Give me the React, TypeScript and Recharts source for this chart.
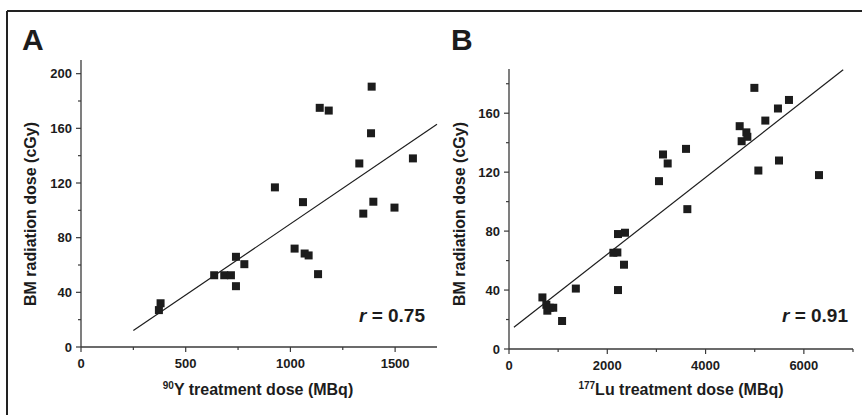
import React from 'react'
import { ScatterChart, Scatter, XAxis, YAxis } from 'recharts'

// panel A: 90Y dose vs BM dose
const xA = [372, 380, 636, 684, 716, 740, 740, 780, 926, 1020, 1060, 1068, 1087, 1132, 1140, 1183, 1329, 1348, 1385, 1388, 1396, 1497, 1585]
const yA = [27, 32, 52.5, 52.5, 52.5, 66, 44.5, 60.6, 116.8, 72, 106, 68.4, 67, 53.3, 175, 173, 134.3, 97.6, 156.4, 190.5, 106.3, 102, 138]
const fitXA = [250, 1700]
const fitYA = [12, 163]
const xTicksA = [0, 250, 500, 750, 1000, 1250, 1500]
const xMajorA = [0, 500, 1000, 1500]
const yTicksA = [0, 20, 40, 60, 80, 100, 120, 140, 160, 180, 200]
const yMajorA = [0, 40, 80, 120, 160, 200]

// panel B: 177Lu dose vs BM dose
const xB = [680, 760, 780, 830, 900, 1080, 1360, 2124, 2205, 2218, 2360, 2340, 2218, 3052, 3134, 3229, 3602, 3629, 4694, 4734, 4830, 4850, 4993, 5074, 5216, 5473, 5494, 5697, 6308]
const yB = [35, 30, 26, 28, 28, 19, 41, 65.3, 65.5, 78, 78.9, 57.2, 40, 113.9, 132, 125.9, 135.8, 94.9, 151.2, 141, 147, 144, 177.2, 121.1, 155, 163.2, 127.9, 169, 118]
const fitXB = [100, 6800]
const fitYB = [14.7, 189.5]
const xTicksB = [0, 1000, 2000, 3000, 4000, 5000, 6000, 7000]
const xMajorB = [0, 2000, 4000, 6000]
const yTicksB = [0, 20, 40, 60, 80, 100, 120, 140, 160, 180]
const yMajorB = [0, 40, 80, 120, 160]

const INK = '#1c1c1c'
const AXIS = '#3a3a3a'
const FONT = '"Liberation Sans", Arial, sans-serif'

const zip = (xs: number[], ys: number[]) => xs.map((x, i) => ({ x, y: ys[i] }))

const Square = ({ cx, cy }: any) => <rect x={cx - 4} y={cy - 4} width={8} height={8} fill={INK} />
const NoDot = () => <g />

const makeYTick = (major: number[]) => ({ x, y, payload }: any) => {
  const isMajor = major.includes(payload.value)
  return (
    <g>
      <line x1={x - (isMajor ? 5 : 3)} x2={x} y1={y} y2={y} stroke={AXIS} strokeWidth={1.2} />
      {isMajor && (
        <text x={x - 9} y={y} dy={4.6} textAnchor="end" fontSize={13} fontWeight="bold" fill={INK} fontFamily={FONT}>
          {payload.value}
        </text>
      )}
    </g>
  )
}

const makeXTick = (major: number[]) => ({ x, y, payload }: any) => {
  const isMajor = major.includes(payload.value)
  return (
    <g>
      <line x1={x} x2={x} y1={y} y2={y + (isMajor ? 5 : 3)} stroke={AXIS} strokeWidth={1.2} />
      {isMajor && (
        <text x={x} y={y + 21} textAnchor="middle" fontSize={13} fontWeight="bold" fill={INK} fontFamily={FONT}>
          {payload.value}
        </text>
      )}
    </g>
  )
}

const Panel = ({ left, width, margin, xDomain, yDomain, xTicks, xMajor, yTicks, yMajor, points, fit }: any) => (
  <div style={{ position: 'absolute', left, top: 0 }}>
    <ScatterChart width={width} height={415} margin={margin}>
      <XAxis
        type="number" dataKey="x" domain={xDomain} ticks={xTicks} interval={0}
        axisLine={{ stroke: AXIS, strokeWidth: 1.3 }} tickLine={false} tickSize={0} tickMargin={0}
        height={30} tick={makeXTick(xMajor)}
      />
      <YAxis
        type="number" dataKey="y" domain={yDomain} ticks={yTicks} interval={0}
        axisLine={{ stroke: AXIS, strokeWidth: 1.3 }} tickLine={false} tickSize={0} tickMargin={0}
        width={50} tick={makeYTick(yMajor)}
      />
      <Scatter data={fit} line={{ stroke: INK, strokeWidth: 1.2 }} shape={NoDot} isAnimationActive={false} />
      <Scatter data={points} shape={Square} isAnimationActive={false} />
    </ScatterChart>
  </div>
)

export default function App() {
  return (
    <div style={{ position: 'relative', width: 862, height: 415, background: '#fff', overflow: 'hidden' }}>
      <style>{'body{margin:0}'}</style>
      <Panel
        left={0} width={440} margin={{ top: 60, right: 3, left: 31, bottom: 38 }}
        xDomain={[0, 1700]} yDomain={[0, 210]}
        xTicks={xTicksA} xMajor={xMajorA} yTicks={yTicksA} yMajor={yMajorA}
        points={zip(xA, yA)} fit={zip(fitXA, fitYA)}
      />
      <Panel
        left={440} width={422} margin={{ top: 69, right: 9, left: 19, bottom: 36 }}
        xDomain={[0, 7000]} yDomain={[0, 190]}
        xTicks={xTicksB} xMajor={xMajorB} yTicks={yTicksB} yMajor={yMajorB}
        points={zip(xB, yB)} fit={zip(fitXB, fitYB)}
      />
      <svg width={862} height={415} style={{ position: 'absolute', left: 0, top: 0, pointerEvents: 'none' }} fontFamily={FONT} fill={INK}>
        <line x1={7} y1={11} x2={862} y2={11} stroke="#222" strokeWidth={2} />
        <line x1={7} y1={11} x2={7} y2={415} stroke="#222" strokeWidth={2} />
        <text x={22} y={50} fontSize={30} fontWeight="bold">A</text>
        <text x={451} y={50} fontSize={30} fontWeight="bold">B</text>
        <text transform="translate(36,214) rotate(-90)" textAnchor="middle" fontSize={16} fontWeight="bold">BM radiation dose (cGy)</text>
        <text transform="translate(465,214) rotate(-90)" textAnchor="middle" fontSize={16} fontWeight="bold">BM radiation dose (cGy)</text>
        <text x={258} y={395} textAnchor="middle" fontSize={16} fontWeight="bold">
          <tspan fontSize={10} dy={-6}>90</tspan>
          <tspan dy={6}>Y treatment dose (MBq)</tspan>
        </text>
        <text x={681} y={395} textAnchor="middle" fontSize={16} fontWeight="bold">
          <tspan fontSize={10} dy={-6}>177</tspan>
          <tspan dy={6}>Lu treatment dose (MBq)</tspan>
        </text>
        <text x={425} y={322} textAnchor="end" fontSize={19} fontWeight="bold">
          <tspan fontStyle="italic">r</tspan> = 0.75
        </text>
        <text x={848} y={322} textAnchor="end" fontSize={19} fontWeight="bold">
          <tspan fontStyle="italic">r</tspan> = 0.91
        </text>
      </svg>
    </div>
  )
}
